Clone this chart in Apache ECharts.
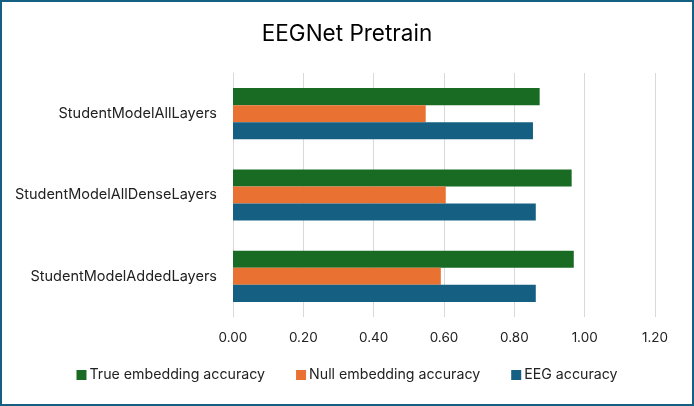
<!DOCTYPE html>
<html><head><meta charset="utf-8">
<script src="https://cdn.jsdelivr.net/npm/echarts@6/dist/echarts.min.js"></script>
<style>
html,body{margin:0;padding:0;background:#fff;}
#c{width:694px;height:406px;}
#frame{position:absolute;left:0;top:0;width:690px;height:402px;border:2px solid #156082;pointer-events:none;}
</style></head>
<body>
<div id="c"></div>
<div id="frame"></div>
<script>
const categories = ['StudentModelAddedLayers', 'StudentModelAllDenseLayers', 'StudentModelAllLayers'];
const trueEmbedding = [0.969, 0.963, 0.872];
const nullEmbedding = [0.591, 0.605, 0.548];
const eegAccuracy = [0.861, 0.861, 0.853];
const xTicks = [0, 0.2, 0.4, 0.6, 0.8, 1.0, 1.2];

const FONT = 'Inter, "Noto Sans", sans-serif';
const chart = echarts.init(document.getElementById('c'), null, {renderer: 'canvas'});
chart.setOption({
  animation: false,
  title: {
    text: 'EEGNet Pretrain', left: 'center', top: 18,
    textStyle: {fontFamily: FONT, fontSize: 22.5, fontWeight: 'normal', color: '#000'}
  },
  legend: {
    data: ['True embedding accuracy', 'Null embedding accuracy', 'EEG accuracy'],
    bottom: 19, left: 'center', itemWidth: 10, itemHeight: 10, itemGap: 31,
    icon: 'rect',
    textStyle: {fontFamily: FONT, fontSize: 14.2, color: '#222', padding: [0, 0, 0, -2]}
  },
  grid: {left: 233, right: 39, top: 73, bottom: 89, containLabel: false},
  xAxis: {
    type: 'value', min: xTicks[0], max: xTicks[xTicks.length - 1], interval: 0.2,
    axisLine: {show: false}, axisTick: {show: false},
    splitLine: {lineStyle: {color: '#D9D9D9', width: 1}},
    axisLabel: {fontFamily: FONT, fontSize: 13.5, color: '#222', margin: 14,
      formatter: v => v.toFixed(2)}
  },
  yAxis: {
    type: 'category', data: categories,
    axisLine: {show: true, lineStyle: {color: '#D9D9D9'}}, axisTick: {show: false},
    axisLabel: {fontFamily: FONT, fontSize: 14.5, color: '#222', margin: 16}
  },
  series: [
    {name: 'True embedding accuracy', type: 'bar', data: trueEmbedding, itemStyle: {color: '#196B24'}, barGap: '0%', barCategoryGap: '37%'},
    {name: 'Null embedding accuracy', type: 'bar', data: nullEmbedding, itemStyle: {color: '#E97132'}, barGap: '0%', barCategoryGap: '37%'},
    {name: 'EEG accuracy', type: 'bar', data: eegAccuracy, itemStyle: {color: '#156082'}, barGap: '0%', barCategoryGap: '37%'}
  ]
});
</script>
</body></html>
